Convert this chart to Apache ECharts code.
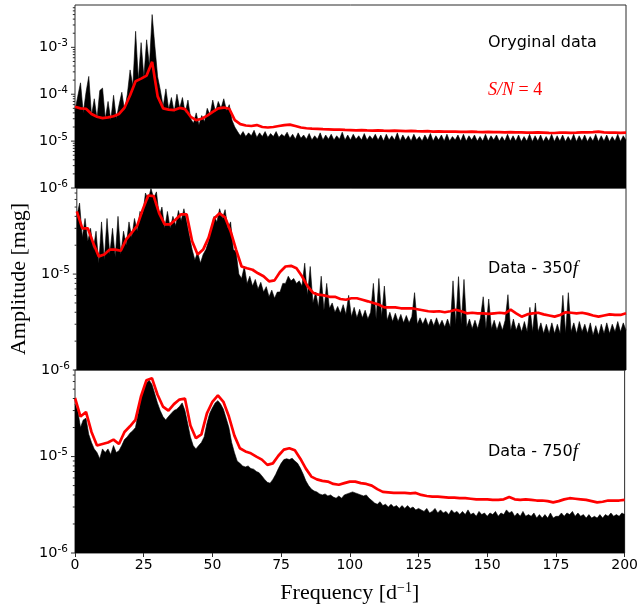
<!DOCTYPE html>
<html><head><meta charset="utf-8">
<script src="https://cdn.jsdelivr.net/npm/echarts@6/dist/echarts.min.js"></script>
<style>html,body{margin:0;padding:0;background:#fff}#c{width:641px;height:611px}</style>
</head><body><div id="c"></div>
<script>
// ---- axis / tick definitions ----
const xTicks = [0, 25, 50, 75, 100, 125, 150, 175, 200];
const yDecadesTop = [-6, -5, -4, -3, -2];   // panel 1 decades
const yDecadesLow = [-6, -5, -4];           // panels 2 & 3 decades
const minorMultipliers = [2, 3, 4, 5, 6, 7, 8, 9];
const unit = 1e-6;                          // values below are in micro-mag

// ---- panel 1: original data (amplitude, micro-mag, 0..200 step 1 d^-1) ----
const origAmp = [
  45, 90, 175, 40, 110, 240, 35, 80, 30, 120,
  135, 30, 70, 28, 95, 30, 60, 110, 45, 100,
  330, 150, 2200, 200, 1260, 230, 1450, 400, 5000, 1040,
  235, 120, 55, 130, 48, 85, 42, 100, 50, 85,
  40, 75, 30, 24, 40, 22, 35, 26, 50, 36,
  75, 42, 70, 50, 80, 45, 60, 28, 20, 16,
  13, 16, 12.5, 15, 13, 17, 12, 15, 12.5, 16,
  12, 14.5, 12.5, 16, 12, 14, 12.5, 15.5, 11.5, 14,
  11, 15, 11.5, 13.5, 11, 14.5, 10.5, 13, 11, 15,
  10.5, 13.5, 11, 14, 10.5, 13, 11, 15.5, 10.5, 13.5,
  10.5, 14, 11, 13, 10.5, 14.5, 10.5, 13, 11, 14,
  10.5, 13.5, 10, 14, 10.5, 13, 10.5, 15, 10, 13.5,
  10.5, 13, 10, 14, 10.5, 12.5, 10, 13.5, 10.5, 14.5,
  10, 13, 10.5, 13.5, 10, 14, 10, 12.5, 10.5, 13.5,
  10, 14, 10, 13, 10.5, 13.5, 10, 12.5, 10, 14,
  10, 13, 10.5, 13.5, 10, 12.5, 10, 14, 10, 13,
  10, 13.5, 9.8, 12.5, 10, 14, 9.8, 13, 10, 13.5,
  9.8, 12.5, 10, 14, 9.8, 13, 10, 13.5, 9.8, 12.5,
  10, 14, 9.8, 13, 10, 13.5, 9.8, 12.5, 10, 14,
  9.8, 13, 10, 13.5, 9.8, 12.5, 10, 14, 9.8, 13,
  10.5
];
// S/N = 4 level, micro-mag, 0..200 step 2 d^-1
const origSN = [
  54, 50, 49, 38, 33, 31, 32, 34, 38, 52,
  95, 190, 215, 250, 490, 90, 50, 47, 46, 51,
  48, 33, 28, 30, 35, 42, 50, 52, 49, 28,
  23, 21.5, 21, 22, 20, 19.5, 20, 21, 22, 22.5,
  21, 19.5, 18.8, 18.5, 18.3, 18, 17.8, 17.6, 17.5, 17.3,
  17.2, 17, 17.1, 16.9, 16.8, 16.9, 16.7, 16.6, 16.7, 16.6,
  16.4, 16.5, 16.3, 16.2, 16.3, 16.0, 16.1, 15.9, 16.0, 15.9,
  15.8, 15.8, 15.9, 15.7, 15.6, 15.7, 15.5, 15.6, 15.4, 15.6,
  15.4, 15.3, 15.2, 15.1, 15.3, 15.2, 15.0, 14.9, 15.1, 15.2,
  15.0, 15.1, 15.3, 15.4, 15.6, 16.0, 15.4, 15.2, 15.1, 15.0,
  15.1
];

// ---- panel 2: data - 350 f ----
const res350Amp = [
  40, 55, 24, 38, 22, 30, 18, 28, 13, 35,
  14, 38, 16, 30, 15, 40, 16, 28, 20, 35,
  24, 38, 28, 45, 42, 70, 60, 78, 62, 72,
  40, 50, 30, 45, 30, 40, 32, 46, 36, 48,
  35, 25, 18, 14, 17, 13, 16, 18, 22, 30,
  40, 35, 48, 38, 47, 30, 35, 18, 17, 10,
  9, 12, 8, 9.5, 7.5, 8.8, 7, 8.2, 6.5, 7.4,
  5.8, 6.8, 5.6, 6.5, 6.5, 8, 8, 9.5, 8.5, 9,
  8, 8.5, 7.5, 13, 6, 12, 5, 6.5, 4.5, 9.5,
  4.2, 8, 4.4, 5, 4, 4.6, 3.9, 4.8, 3.8, 6,
  3.6, 4.5, 3.5, 4.3, 3.5, 4.2, 3.4, 4, 8, 3.4,
  9, 3.6, 7.5, 3.3, 4, 3.2, 3.9, 3.2, 3.8, 3.1,
  3.7, 3.1, 3.6, 6.4, 3.0, 3.5, 3.0, 3.5, 2.9, 3.4,
  2.9, 3.5, 2.9, 3.3, 2.8, 3.4, 2.8, 8.5, 3.0, 9.4,
  3.0, 8.8, 2.8, 3.4, 2.7, 3.3, 2.7, 3.5, 5.8, 2.7,
  5.5, 2.7, 3.3, 2.6, 3.2, 2.6, 3.3, 6.1, 2.6, 3.4,
  2.6, 3.1, 2.5, 3.2, 2.5, 4.5, 2.5, 5, 2.5, 3.1,
  2.4, 3.0, 2.4, 3.1, 2.4, 3.0, 2.4, 6, 2.4, 6.4,
  2.5, 3.1, 2.4, 3.2, 2.5, 3.0, 2.4, 3.1, 2.3, 2.9,
  2.3, 3.0, 2.4, 3.1, 2.4, 3.0, 2.5, 3.2, 2.5, 3.1,
  2.6
];
const res350SN = [
  45, 30, 30, 21, 15.3, 16, 18, 18, 17.5, 23,
  27, 32, 47, 66, 65, 43, 33, 33, 37, 42,
  42, 22, 16, 18, 24, 38, 43, 39, 28, 18,
  12, 11.5, 11.1, 10.2, 9.5, 8.4, 8.6, 10.5, 12, 12.2,
  11.5, 9.5, 7.5, 6.4, 6.1, 6.0, 5.8, 5.8, 5.5, 5.4,
  5.6, 5.6, 5.4, 5.2, 5.0, 4.8, 4.5, 4.5, 4.5, 4.4,
  4.4, 4.4, 4.3, 4.2, 4.1, 4.06, 4.1, 4.0, 4.1, 4.25,
  4.1, 3.9, 3.95, 3.9, 3.9, 3.85, 3.9, 3.95, 3.9, 4.25,
  3.9, 3.6, 3.8, 3.9, 3.95, 3.8, 3.7, 3.6, 3.75, 4.0,
  3.95, 3.9, 3.95, 3.85, 3.7, 3.6, 3.7, 3.8, 3.75, 3.75,
  3.9
];

// ---- panel 3: data - 750 f ----
const res750Amp = [
  35, 30, 20, 24, 25, 17, 14, 12, 11, 9.5,
  12, 11, 12, 10.5, 13, 11, 11.5, 13, 15, 16,
  17.5, 18.5, 20, 28, 40, 52, 58, 62, 56, 45,
  36, 30, 26, 24, 26, 28, 30, 31, 33, 36,
  30, 22, 16, 13, 12, 13, 14, 16, 22, 28,
  32, 36, 38, 35, 31, 25, 20, 14, 11, 9,
  8.5, 8, 7.8, 8, 7.5, 7.4, 7, 6.8, 6.3, 5.8,
  5.4, 5.3, 5.8, 6.5, 7.5, 8.5, 9.3, 9.5, 9.3, 9.6,
  9, 8.5, 7.6, 6.6, 5.6, 5.0, 4.6, 4.4, 4.3, 4.1,
  4.0, 4.1, 3.9, 4.0, 3.8, 3.7, 3.9, 3.7, 4.0, 4.1,
  4.2, 4.3, 4.2, 4.1, 4.0, 3.9, 4.0, 3.7, 3.5, 3.3,
  3.2, 3.4, 3.1, 3.2, 3.0, 3.2, 3.0, 3.1, 2.9, 3.1,
  2.9, 3.1, 2.9, 3.0, 2.8, 2.9, 2.8, 2.7, 2.9, 2.6,
  2.7, 2.9, 2.6, 2.8, 2.6, 2.7, 2.5, 2.8, 2.6, 2.7,
  2.5, 2.7, 2.5, 2.8, 2.5, 2.6, 2.4, 2.7, 2.5, 2.6,
  2.4, 2.6, 2.5, 2.7, 2.4, 2.6, 2.5, 2.8, 2.6, 2.7,
  2.4, 2.6, 2.4, 2.7, 2.4, 2.5, 2.4, 2.6, 2.3, 2.5,
  2.3, 2.5, 2.3, 2.6, 2.3, 2.4, 2.4, 2.6, 2.4, 2.6,
  2.5, 2.7, 2.4, 2.6, 2.4, 2.5, 2.3, 2.5, 2.3, 2.4,
  2.3, 2.5, 2.3, 2.5, 2.4, 2.6, 2.4, 2.5, 2.4, 2.6,
  2.5
];
const res750SN = [
  40.6, 26, 29, 18, 13, 13.5, 14, 15, 13.5, 18,
  20.6, 24, 42, 62, 65, 44, 33, 30, 35, 39,
  40, 21, 15.5, 17, 28, 37, 43, 37, 26, 16.5,
  12.2, 11.3, 10.8, 10, 9.3, 8.2, 8.5, 10.2, 11.8, 12.2,
  11.6, 9.5, 7.5, 6.2, 5.8, 5.6, 5.5, 5.2, 5.1, 5.3,
  5.5, 5.5, 5.3, 5.2, 5.0, 4.6, 4.3, 4.25, 4.2, 4.2,
  4.2, 4.15, 4.2, 4.0, 3.9, 3.85, 3.85, 3.8, 3.75, 3.75,
  3.7, 3.7, 3.65, 3.6, 3.6, 3.6, 3.55, 3.55, 3.6, 3.8,
  3.6, 3.55, 3.6, 3.55, 3.5, 3.5, 3.45, 3.35, 3.45, 3.6,
  3.7, 3.65, 3.6, 3.55, 3.45, 3.35, 3.4, 3.5, 3.5, 3.5,
  3.55
];

const ampStep = 1, snStep = 2;
const panelMax = [8e-3, 7.9e-5, 7.9e-5];
const panelTitles = ['Oryginal data', 'Data - 350', 'Data - 750'];

function toPairs(arr, step) { return arr.map((v, i) => [i * step, v * unit]); }

const grids = [
  {left: 75, top: 5, width: 551, height: 183},
  {left: 75, top: 188, width: 551, height: 182},
  {left: 75, top: 370, width: 551, height: 183}
].map(g => Object.assign(g, {show: true, borderColor: '#2b2b2b', borderWidth: 1, backgroundColor: 'transparent'}));

const xAxes = [0, 1, 2].map(i => ({
  type: 'value', gridIndex: i, min: 0, max: 200, interval: 25,
  show: i === 2,
  axisLine: {show: false},
  axisTick: {show: i === 2, length: 4, lineStyle: {color: '#2b2b2b', width: 1}},
  splitLine: {show: false},
  axisLabel: {show: i === 2, margin: 5, fontFamily: 'DejaVu Sans', fontSize: 14, color: '#000'},
  name: i === 2 ? '{n|Frequency [d}{s|−1}{n|]}' : '',
  nameLocation: 'middle', nameGap: 28,
  nameTextStyle: {
    rich: {
      n: {fontFamily: 'Liberation Serif', fontSize: 22, color: '#000', lineHeight: 24},
      s: {fontFamily: 'Liberation Serif', fontSize: 14, color: '#000', lineHeight: 14, verticalAlign: 'top'}
    }
  }
}));

function decadeLabel(v) {
  const e = Math.log10(v);
  const r = Math.round(e);
  if (Math.abs(e - r) > 1e-6) return '';
  return '{b|10}{s|' + (r < 0 ? '-' : '') + Math.abs(r) + '}';
}

const yAxes = [0, 1, 2].map(i => ({
  type: 'log', gridIndex: i, min: 1e-6, max: panelMax[i], logBase: 10,
  axisLine: {show: false}, axisTick: {show: false}, splitLine: {show: false},
  axisLabel: {
    margin: 7, formatter: decadeLabel,
    rich: {
      b: {fontFamily: 'DejaVu Sans', fontSize: 14.5, color: '#000', lineHeight: 19},
      s: {fontFamily: 'DejaVu Sans', fontSize: 10.5, color: '#000', lineHeight: 10, verticalAlign: 'top'}
    }
  },
  name: i === 1 ? 'Amplitude [mag]' : '',
  nameLocation: 'middle', nameRotate: 90, nameGap: 45,
  nameTextStyle: {fontFamily: 'Liberation Serif', fontSize: 22, color: '#000'}
}));

function tickData(decades, maxV) {
  const out = [];
  decades.forEach(d => {
    const base = Math.pow(10, d);
    if (base <= maxV) out.push([0, base, 1]);
    minorMultipliers.forEach(m => { const v = m * base; if (v < maxV) out.push([0, v, 0]); });
  });
  return out;
}

function tickSeries(i, decades) {
  return {
    type: 'custom', xAxisIndex: i, yAxisIndex: i, silent: true, clip: false, z: 5,
    data: tickData(decades, panelMax[i]),
    renderItem: (params, api) => {
      const p = api.coord([api.value(0), api.value(1)]);
      const len = api.value(2) ? 4 : 2.2;
      return {type: 'line', shape: {x1: p[0] - len, y1: p[1], x2: p[0], y2: p[1]},
              style: {stroke: '#2b2b2b', lineWidth: 1}};
    }
  };
}

const ampSets = [origAmp, res350Amp, res750Amp];
const snSets = [origSN, res350SN, res750SN];

const series = [];
[0, 1, 2].forEach(i => {
  series.push({
    type: 'line', xAxisIndex: i, yAxisIndex: i, data: toPairs(ampSets[i], ampStep),
    showSymbol: false, symbol: 'none', sampling: null, z: 2, silent: true,
    lineStyle: {color: '#000', width: 0.6},
    areaStyle: {color: '#000', opacity: 1, origin: 'start'}
  });
  series.push({
    type: 'line', xAxisIndex: i, yAxisIndex: i, data: toPairs(snSets[i], snStep),
    showSymbol: false, symbol: 'none', z: 3, silent: true,
    lineStyle: {color: '#ff0000', width: 2.7}
  });
  series.push(tickSeries(i, i === 0 ? yDecadesTop : yDecadesLow));
});

const txtN = {fontFamily: 'DejaVu Sans', fontSize: 16, fill: '#000'};
const graphic = [
  {type: 'text', x: 488, y: 43, style: {text: panelTitles[0], font: '16px "DejaVu Sans"', fill: '#000', verticalAlign: 'middle'}},
  {type: 'text', x: 488, y: 90, style: {text: '{i|S/N}{n| = 4}', verticalAlign: 'middle',
    rich: {i: {fontFamily: 'Liberation Serif', fontStyle: 'italic', fontSize: 18, fill: '#ff0000'},
           n: {fontFamily: 'Liberation Serif', fontSize: 18, fill: '#ff0000'}}}},
  {type: 'text', x: 488, y: 269, style: {text: '{n|' + panelTitles[1] + '}{i|f}', verticalAlign: 'middle',
    rich: {n: txtN, i: {fontFamily: 'Liberation Serif', fontStyle: 'italic', fontSize: 19, fill: '#000'}}}},
  {type: 'text', x: 488, y: 452, style: {text: '{n|' + panelTitles[2] + '}{i|f}', verticalAlign: 'middle',
    rich: {n: txtN, i: {fontFamily: 'Liberation Serif', fontStyle: 'italic', fontSize: 19, fill: '#000'}}}}
];

const chart = echarts.init(document.getElementById('c'), null, {renderer: 'canvas'});
chart.setOption({
  animation: false,
  backgroundColor: '#fff',
  grid: grids, xAxis: xAxes, yAxis: yAxes, series: series, graphic: graphic
});
</script></body></html>
